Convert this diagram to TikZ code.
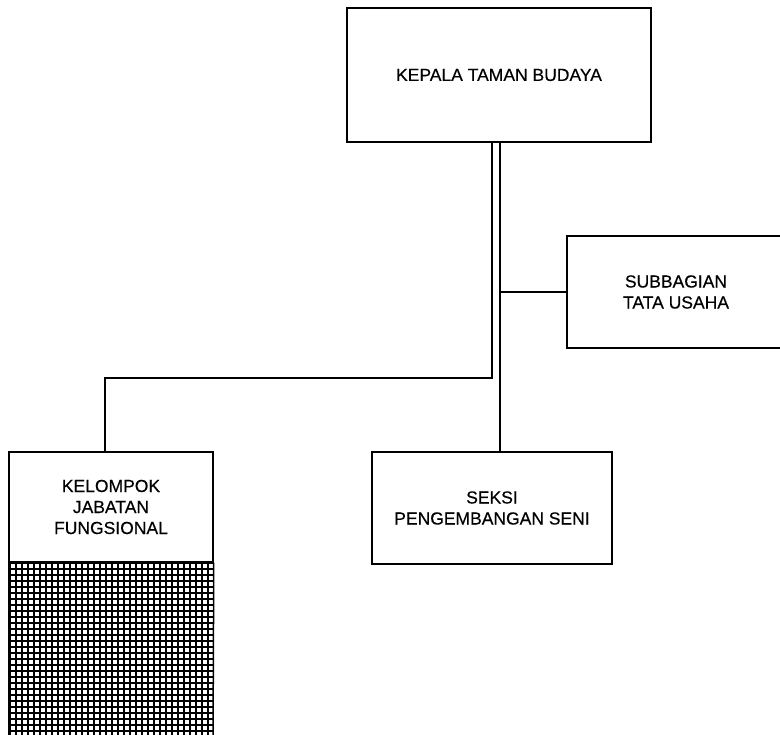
\documentclass[tikz,border=0pt]{standalone}
\usepackage{fontspec}
\setmainfont{Liberation Sans}
\begin{document}
\begin{tikzpicture}[x=1pt,y=-1pt,
  box/.style={draw=black, line width=1.5pt, rectangle, inner sep=0pt, align=center,
    font=\fontsize{17.5}{21}\selectfont\addfontfeature{FakeBold=0.35}},
  link/.style={draw=black, line width=1.3pt},
  hatchline/.style={draw=black, line width=1.8pt}]
\useasboundingbox (0,0) rectangle (780,735);
\fill[white] (0,0) rectangle (780,735);

\node[box, minimum width=304pt, minimum height=134pt] (kepala) at (499,75) {KEPALA TAMAN BUDAYA};
\node[box, minimum width=218pt, minimum height=112pt] (subbag) at (676,292) {SUBBAGIAN\\TATA USAHA};
\node[box, minimum width=240pt, minimum height=112pt] (seksi) at (492,508) {SEKSI\\PENGEMBANGAN SENI};
\node[box, minimum width=204pt, minimum height=110pt] (kelompok) at (111,507) {KELOMPOK\\JABATAN\\FUNGSIONAL};

% hatched lower part of the functional group column
\coordinate (hatchTL) at (kelompok.south west);
\coordinate (hatchBR) at (213,745);
\begin{scope}
  \clip (hatchTL) rectangle (hatchBR);
  \foreach \k in {0,...,36} {
    \draw[hatchline] (10+\k*6, 560) -- (10+\k*6, 745);
  }
  \foreach \k in {0,...,32} {
    \draw[hatchline] (5, 563+\k*6) -- (220, 563+\k*6);
  }
\end{scope}
\draw[line width=1.5pt] (hatchTL) -- (kelompok.south west |- hatchBR);
\draw[line width=1.5pt] (kelompok.south east) -- (hatchBR);

% connectors
\coordinate (jleft) at (492,378);
\coordinate (spine) at (500,292);
\draw[link] (kepala.south -| jleft) -- (jleft) -| ([xshift=-6pt]kelompok.north);
\draw[link] (kepala.south -| spine) -- (seksi.north -| spine);
\draw[link] (spine) -- (subbag.west);
\end{tikzpicture}
\end{document}
